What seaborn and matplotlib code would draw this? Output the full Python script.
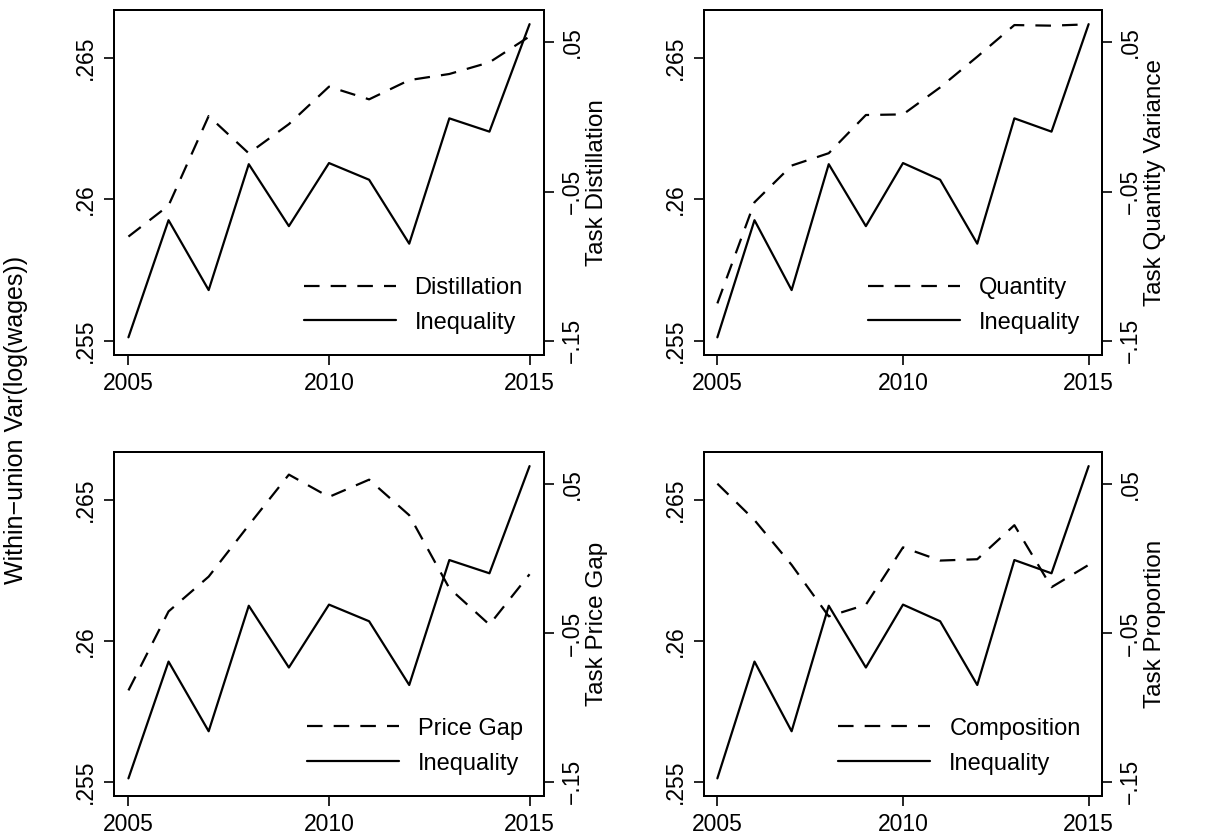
import matplotlib
matplotlib.use("Agg")
import matplotlib.pyplot as plt
import seaborn as sns
import pandas as pd
from matplotlib.lines import Line2D

# ---------------- data ----------------
years = [2005, 2006, 2007, 2008, 2009, 2010, 2011, 2012, 2013, 2014, 2015]
inequality = [0.25512, 0.25926, 0.25679, 0.26124, 0.25905, 0.26128,
              0.26069, 0.25843, 0.26286, 0.26239, 0.26619]
distillation = [-0.0802, -0.0594, 0.0006, -0.0244, -0.0048, 0.0203,
                0.0118, 0.0247, 0.0288, 0.0366, 0.0540]
quantity = [-0.1250, -0.0572, -0.0326, -0.0243, 0.0013, 0.0017,
            0.0198, 0.0404, 0.0616, 0.0612, 0.0621]
price_gap = [-0.0886, -0.0355, -0.0121, 0.0225, 0.0565, 0.0415,
             0.0531, 0.0292, -0.0199, -0.0444, -0.0105]
composition = [0.0504, 0.0259, -0.0042, -0.0388, -0.0310, 0.0076,
               -0.0013, -0.0004, 0.0225, -0.0192, -0.0042]

series_names = ["Distillation", "Quantity", "Price Gap", "Composition"]
right_labels = ["Task Distillation", "Task Quantity Variance",
                "Task Price Gap", "Task Proportion"]
x_ticks = [2005, 2010, 2015]
left_ticks = [0.255, 0.26, 0.265]
left_ticklabels = [".255", ".26", ".265"]
right_ticks = [-0.15, -0.05, 0.05]
right_ticklabels = ["\u2212.15", "\u2212.05", ".05"]
left_label = "Within\u2212union Var(log(wages))"

# ---------------- style ----------------
sns.set_style("ticks")
plt.rcParams["font.family"] = ["Liberation Sans", "DejaVu Sans"]
for k in ["text.color", "axes.labelcolor", "xtick.color", "ytick.color",
          "axes.edgecolor"]:
    plt.rcParams[k] = "black"
FS_TICK = 16.5
FS_LAB = 17.5
FS_LEG = 17

fig = plt.figure(figsize=(12.05, 8.34), dpi=100)
W, H = 1205.0, 834.0

boxes = [(114, 544, 10, 355), (704, 1102, 10, 355),
         (114, 544, 452, 796), (704, 1102, 452, 796)]
task_series = [distillation, quantity, price_gap, composition]

LW = 1.6
DASH = (0, (7, 5))

for (l, r, t, b), name, vals, rlab in zip(boxes, series_names, task_series, right_labels):
    ax = fig.add_axes([l / W, 1 - b / H, (r - l) / W, (b - t) / H])
    df = pd.DataFrame({"year": years, "ineq": inequality, "task": vals})
    sns.lineplot(data=df, x="year", y="ineq", ax=ax, color="black", lw=LW)
    ax.set_xlim(2004.64, 2015.36)
    ax.set_ylim(0.254495, 0.26669)
    ax.set_xticks(x_ticks)
    ax.set_xticklabels([str(v) for v in x_ticks], fontsize=FS_TICK)
    ax.set_yticks(left_ticks)
    ax.set_yticklabels(left_ticklabels, fontsize=FS_TICK, rotation=90, va="center")
    ax.set_xlabel("")
    ax.set_ylabel("")

    ax2 = ax.twinx()
    sns.lineplot(data=df, x="year", y="task", ax=ax2, color="black", lw=LW)
    ax2.lines[0].set_linestyle(DASH)
    ax2.set_ylim(-0.1596, 0.0717)
    ax2.set_yticks(right_ticks)
    ax2.set_yticklabels(right_ticklabels, fontsize=FS_TICK, rotation=90, va="center")
    ax2.set_ylabel(rlab, fontsize=FS_LAB, labelpad=2)
    ax2.set_xlabel("")

    for a in (ax, ax2):
        for s in a.spines.values():
            s.set_linewidth(1.4)
            s.set_color("black")
            s.set_visible(True)
        a.tick_params(axis="both", length=7, width=1.2, color="black", pad=5)

    handles = [Line2D([], [], color="black", lw=LW, linestyle=DASH),
               Line2D([], [], color="black", lw=LW)]
    ax2.legend(handles, [name, "Inequality"], loc="lower right", frameon=False,
               fontsize=FS_LEG, handlelength=3.9, handletextpad=0.8,
               labelspacing=0.55, borderaxespad=0.5)

fig.text(16 / W, 1 - 420 / H, left_label, rotation=90, fontsize=FS_LAB + 0.5,
         ha="center", va="center")

fig.savefig("out.png", dpi=100)
